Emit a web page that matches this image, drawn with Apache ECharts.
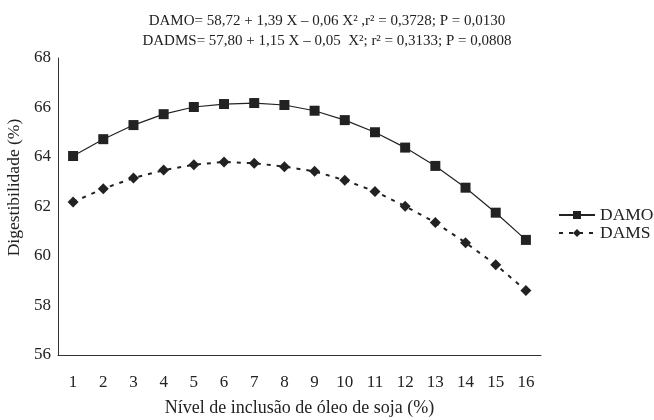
<!DOCTYPE html>
<html lang="pt-br">
<head>
<meta charset="UTF-8">
<title>Digestibilidade</title>
<script src="https://cdn.jsdelivr.net/npm/echarts@6/dist/echarts.min.js"></script>
<style>
  html, body { margin: 0; padding: 0; background: #fff; }
  #main { width: 654px; height: 420px; }
</style>
</head>
<body>
<div id="main"></div>
<script>
// niveis de inclusao (eixo x)
var niveis = ['1','2','3','4','5','6','7','8','9','10','11','12','13','14','15','16'];
// DAMO
var damo = [64.04, 64.72, 65.29, 65.73, 66.02, 66.14, 66.18, 66.10, 65.87, 65.49, 65.00, 64.38, 63.64, 62.76, 61.75, 60.65];
// DAMS
var dams = [62.18, 62.72, 63.15, 63.47, 63.69, 63.80, 63.75, 63.61, 63.42, 63.06, 62.61, 62.01, 61.35, 60.54, 59.65, 58.61];

var fonte = '"Liberation Serif", "DejaVu Serif", serif';
var cor = '#222';

var chart = echarts.init(document.getElementById('main'));
chart.setOption({
    animation: false,
    title: {
        text: 'DAMO= 58,72 + 1,39 X – 0,06 X² ,r² = 0,3728; P = 0,0130\nDADMS= 57,80 + 1,15 X – 0,05  X²; r² = 0,3133; P = 0,0808',
        left: 322,
        top: 6,
        textAlign: 'center',
        textStyle: {
            fontFamily: fonte, fontSize: 15, fontWeight: 'normal', color: cor, lineHeight: 20
        }
    },
    legend: {
        orient: 'vertical',
        left: 558,
        top: 206,
        padding: 0,
        itemWidth: 36,
        itemHeight: 10,
        itemGap: 0,
        data: ['DAMO', 'DAMS'],
        textStyle: { fontFamily: fonte, fontSize: 17.5, color: cor, lineHeight: 18 }
    },
    grid: { left: 58, right: 113, top: 58, bottom: 65, outerBoundsMode: 'none' },
    xAxis: {
        type: 'category',
        data: niveis,
        boundaryGap: true,
        name: 'Nível de inclusão de óleo de soja (%)',
        nameLocation: 'middle',
        nameGap: 44,
        nameTextStyle: { fontFamily: fonte, fontSize: 18, color: cor },
        axisLine: { lineStyle: { color: '#333', width: 1 } },
        axisTick: { show: false },
        axisLabel: { fontFamily: fonte, fontSize: 17, color: cor, margin: 19 }
    },
    yAxis: {
        type: 'value',
        min: 56,
        max: 68,
        interval: 2,
        name: 'Digestibilidade (%)',
        nameLocation: 'middle',
        nameGap: 34,
        nameTextStyle: { fontFamily: fonte, fontSize: 17.5, color: cor, padding: [0, 0, 0, 38] },
        axisLine: { show: true, lineStyle: { color: '#333', width: 1 } },
        axisTick: { show: false },
        splitLine: { show: false },
        axisLabel: { fontFamily: fonte, fontSize: 17, color: cor, margin: 7 }
    },
    series: [
        {
            name: 'DAMO',
            type: 'line',
            data: damo,
            symbol: 'rect',
            symbolSize: 10,
            itemStyle: { color: '#222' },
            lineStyle: { color: '#222', width: 1.2, type: 'solid' }
        },
        {
            name: 'DAMS',
            type: 'line',
            data: dams,
            symbol: 'diamond',
            symbolSize: [11, 11],
            itemStyle: { color: '#222' },
            lineStyle: { color: '#222', width: 2, type: [4, 6] }
        }
    ]
});
</script>
</body>
</html>
